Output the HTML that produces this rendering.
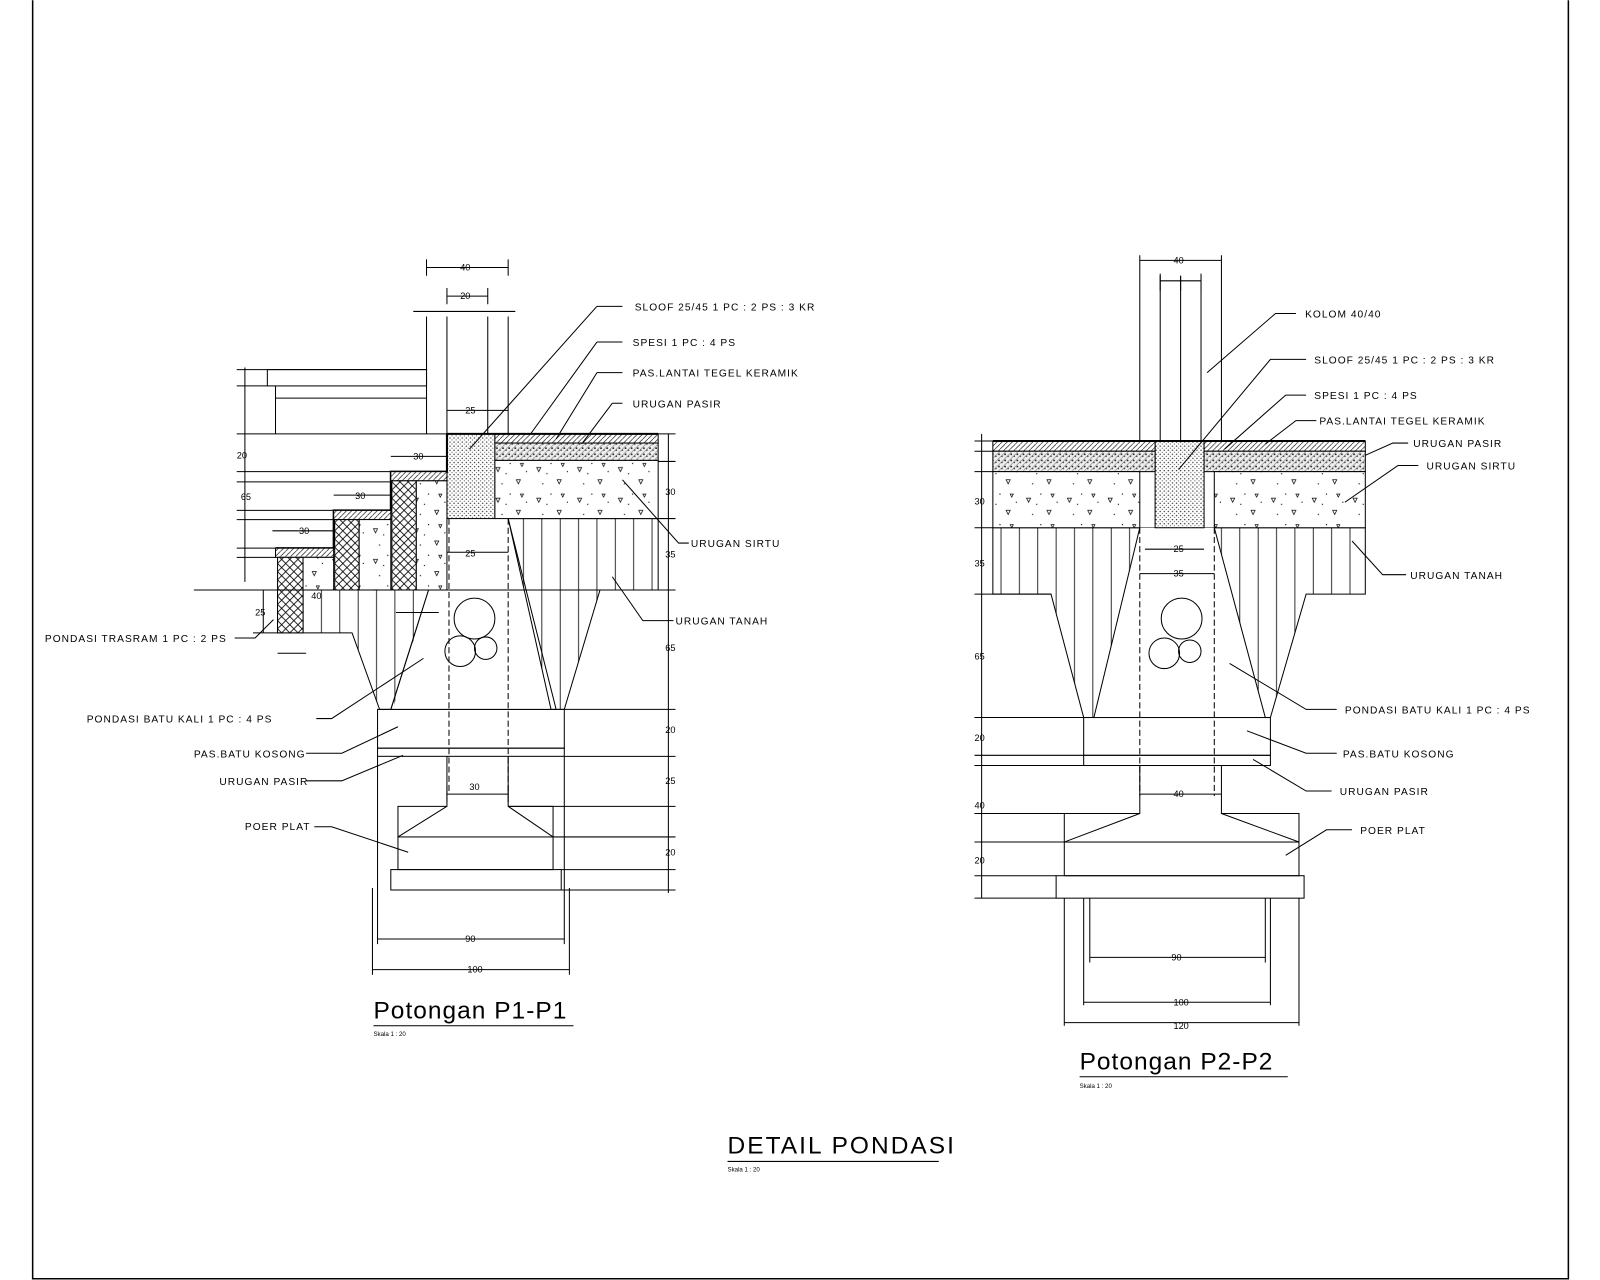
<!DOCTYPE html>
<html><head><meta charset="utf-8"><style>
html,body{margin:0;padding:0;background:#fff}
svg{display:block}
text{font-family:"Liberation Sans",sans-serif;fill:#000}
.l{font-size:10px;letter-spacing:1px}
.d{font-size:9px}
</style></head><body>
<svg width="1600" height="1280" viewBox="0 0 1568 1254" xmlns="http://www.w3.org/2000/svg">
<defs>
<pattern id="dots" width="4" height="4" patternUnits="userSpaceOnUse"><rect width="4" height="4" fill="#fff"/><circle cx="1" cy="1" r="0.7" fill="#333"/><circle cx="3" cy="3" r="0.6" fill="#555"/></pattern>
<pattern id="sp" width="6" height="6" patternUnits="userSpaceOnUse"><rect width="6" height="6" fill="#eee"/><circle cx="1" cy="1" r="0.9" fill="#222"/><circle cx="4" cy="3" r="0.8" fill="#444"/><path d="M0 6L6 0" stroke="#666" stroke-width="0.5"/></pattern>
<pattern id="sirtu" width="40" height="30" patternUnits="userSpaceOnUse"><rect width="40" height="30" fill="#fff"/><path d="M6 8l4 0-2 4z M26 20l4 0-2 4z M30 4l3 0-1.5 3z" fill="none" stroke="#000" stroke-width="0.7"/><circle cx="16" cy="14" r="0.6"/><circle cx="36" cy="12" r="0.6"/><circle cx="12" cy="24" r="0.6"/><circle cx="20" cy="4" r="0.6"/></pattern>
<pattern id="tile" width="5" height="5" patternUnits="userSpaceOnUse"><rect width="5" height="5" fill="#fff"/><path d="M0 5L5 0" stroke="#000" stroke-width="0.6"/></pattern>
<pattern id="cross" width="8" height="8" patternUnits="userSpaceOnUse"><rect width="8" height="8" fill="#fff"/><path d="M0 8L8 0M0 0L8 8" stroke="#000" stroke-width="0.8"/></pattern>
<pattern id="vl" width="18" height="10" patternUnits="userSpaceOnUse"><rect width="18" height="10" fill="#fff"/><path d="M9 0V10" stroke="#000" stroke-width="0.8"/></pattern>
</defs>
<g fill="none" stroke="#000" stroke-width="1">
<path d="M32 0V1253H1537V0" stroke-width="1.5"/>

<!-- ========== P1 ========== -->
<path d="M418 310V425M438 310V425M478 310V425M498 310V508"/>
<path d="M418 262H498M418 254V270M498 254V270M438 290H478M438 282V298M478 282V298M405 305H505"/>
<rect x="262" y="362" width="156" height="16"/><path d="M270 378V425M270 390H418"/>
<path d="M498 508H645V578H588L553 695H372L345 620H272V578H345" fill="url(#vl)"/>
<path d="M498 508L545 695M420 578L383 695M498 508V578" />
<path d="M440 508H498L540 695H385L420 578H440Z" fill="#fff" stroke="none"/>
<path d="M498 508L540 695M420 578L383 695"/>
<path d="M440 508V778M498 508V778" stroke-dasharray="6 3"/>
<rect x="438" y="425" width="47" height="83" fill="url(#dots)"/>
<rect x="485" y="425" width="160" height="9" fill="url(#tile)"/>
<rect x="485" y="434" width="160" height="17" fill="url(#sp)"/>
<rect x="485" y="451" width="160" height="57" fill="url(#sirtu)"/>
<path d="M438 425H645" stroke-width="2"/>
<path d="M270 537H327V500H383V462H438V425" stroke-width="2"/>
<rect x="270" y="537" width="57" height="9" fill="url(#tile)"/>
<rect x="327" y="500" width="56" height="9" fill="url(#tile)"/>
<rect x="383" y="462" width="55" height="9" fill="url(#tile)"/>
<rect x="272" y="546" width="25" height="74" fill="url(#cross)"/>
<rect x="328" y="509" width="24" height="69" fill="url(#cross)"/>
<rect x="384" y="471" width="24" height="107" fill="url(#cross)"/>
<rect x="297" y="546" width="30" height="32" fill="url(#sirtu)"/>
<rect x="352" y="509" width="31" height="69" fill="url(#sirtu)"/>
<rect x="408" y="471" width="30" height="107" fill="url(#sirtu)"/>
<path d="M190 578H645"/>
<circle cx="465" cy="606" r="20"/><circle cx="451" cy="638" r="15"/><circle cx="476" cy="635" r="11"/>
<rect x="370" y="695" width="183" height="38"/><rect x="370" y="733" width="183" height="8"/>
<path d="M438 741V790H390V820M498 741V790H542V820M438 790L390 820M498 790L542 820"/>
<path d="M438 778H498M438 770V786M498 770V786"/>
<rect x="390" y="820" width="152" height="32"/><rect x="383" y="852" width="167" height="20"/>
<path d="M370 741V925M553 741V925M365 870V955M558 870V955M370 920H553M365 950H558"/>
<path d="M240 360V570M232 362H418M232 378H262M232 425H438M232 462H383M232 472H383M232 500H327M232 509H327M232 537H270M232 546H270M232 578H270"/>
<path d="M655 425V875M645 425H662M645 452H662M645 508H662M645 578H662M553 695H662M553 741H662M498 790H662M542 820H662M550 852H662M550 872H662"/>
<path d="M258 578V620M248 620H272M272 640H300"/>
<path d="M267 520H327M327 485H383M383 447H438M438 402H498M438 541H498M388 600H430"/>
<path d="M585 300H610M585 300L460 440M585 335H610M585 335L520 425M585 365H610M585 365L545 430M600 395H610M600 395L570 435M675 532H665L610 470M660 608H630L600 565M230 625H250L268 607M310 704H325L415 645M300 738H335L390 712M300 765H335L395 740M308 810H325L400 835"/>
<path d="M366 1005H562"/>

<!-- ========== P2 ========== -->
<path d="M1117 250V432M1137 270V432M1157 270V432M1177 270V432M1197 250V432"/>
<path d="M1117 255H1197M1137 275H1177M1137 268V285M1177 268V285M1157 270V285"/>
<path d="M973 517H1338V582H1280L1245 703H1062L1030 582H973Z" fill="url(#vl)"/>
<path d="M1117 517H1190L1240 703H1072Z" fill="#fff" stroke="none"/>
<path d="M1117 517L1072 703M1190 517L1240 703"/>
<path d="M1117 517V780M1190 517V780" stroke-dasharray="6 3"/>
<rect x="1132" y="432" width="48" height="85" fill="url(#dots)"/>
<rect x="973" y="432" width="159" height="10" fill="url(#tile)"/><rect x="1180" y="432" width="158" height="10" fill="url(#tile)"/>
<rect x="973" y="442" width="159" height="20" fill="url(#sp)"/><rect x="1180" y="442" width="158" height="20" fill="url(#sp)"/>
<rect x="973" y="462" width="144" height="55" fill="url(#sirtu)"/><rect x="1190" y="462" width="148" height="55" fill="url(#sirtu)"/>
<path d="M973 432H1338" stroke-width="2"/>
<circle cx="1158" cy="606" r="20"/><circle cx="1141" cy="640" r="15"/><circle cx="1166" cy="638" r="11"/>
<rect x="1062" y="703" width="183" height="37"/><rect x="1062" y="740" width="183" height="10"/>
<path d="M1117 750V797H1043V825M1197 750V797H1273V825M1117 797L1043 825M1197 797L1273 825"/>
<rect x="1043" y="825" width="230" height="33"/><rect x="1035" y="858" width="243" height="22"/>
<path d="M1117 778H1197M1122 538H1180M1117 562H1190"/>
<path d="M1068 880V943M1240 880V943M1062 880V985M1245 880V985M1043 880V1005M1273 880V1005M1068 938H1240M1062 982H1245M1043 1002H1273"/>
<path d="M962 425V880M955 432H973M955 442H973M955 462H973M955 517H973M955 582H1030M955 703H1062M955 740H1062M955 750H1062M955 797H1117M955 825H1043M955 858H1035M955 880H1035"/>
<path d="M1270 307H1250L1183 365M1280 352H1245L1155 460M1280 387H1260L1200 440M1290 412H1270L1240 435M1380 434H1365L1338 446M1390 456H1370L1318 492M1378 563H1355L1325 530M1310 695H1280L1205 650M1310 738H1280L1222 716M1305 775H1280L1228 744M1325 813H1300L1260 838"/>
<path d="M1058 1055H1262"/>
<path d="M713 1138H920"/>
</g>

<g class="l">
<text x="622" y="304">SLOOF 25/45 1 PC : 2 PS : 3 KR</text>
<text x="620" y="339">SPESI 1 PC : 4 PS</text>
<text x="620" y="369">PAS.LANTAI TEGEL KERAMIK</text>
<text x="620" y="399">URUGAN PASIR</text>
<text x="677" y="536">URUGAN SIRTU</text>
<text x="662" y="612">URUGAN TANAH</text>
<text x="44" y="629">PONDASI TRASRAM 1 PC : 2 PS</text>
<text x="85" y="708">PONDASI BATU KALI 1 PC : 4 PS</text>
<text x="190" y="742">PAS.BATU KOSONG</text>
<text x="215" y="769">URUGAN PASIR</text>
<text x="240" y="813">POER PLAT</text>
<text x="1279" y="311">KOLOM 40/40</text>
<text x="1288" y="356">SLOOF 25/45 1 PC : 2 PS : 3 KR</text>
<text x="1288" y="391">SPESI 1 PC : 4 PS</text>
<text x="1293" y="416">PAS.LANTAI TEGEL KERAMIK</text>
<text x="1385" y="438">URUGAN PASIR</text>
<text x="1398" y="460">URUGAN SIRTU</text>
<text x="1382" y="567">URUGAN TANAH</text>
<text x="1318" y="699">PONDASI BATU KALI 1 PC : 4 PS</text>
<text x="1316" y="742">PAS.BATU KOSONG</text>
<text x="1313" y="779">URUGAN PASIR</text>
<text x="1333" y="817">POER PLAT</text>
</g>
<g class="d">
<text x="451" y="265">40</text><text x="451" y="293">20</text><text x="456" y="405">25</text><text x="456" y="545">25</text>
<text x="405" y="450">30</text><text x="348" y="489">30</text><text x="293" y="523">30</text>
<text x="460" y="774">30</text><text x="456" y="923">90</text><text x="458" y="953">100</text>
<text x="232" y="449">20</text><text x="236" y="490">65</text><text x="250" y="603">25</text><text x="305" y="587">40</text>
<text x="652" y="485">30</text><text x="652" y="546">35</text><text x="652" y="638">65</text><text x="652" y="718">20</text><text x="652" y="768">25</text><text x="652" y="838">20</text>
<text x="1150" y="258">40</text><text x="1150" y="541">25</text><text x="1150" y="565">35</text><text x="1150" y="781">40</text>
<text x="1148" y="941">90</text><text x="1150" y="985">100</text><text x="1150" y="1008">120</text>
<text x="955" y="494">30</text><text x="955" y="555">35</text><text x="955" y="646">65</text><text x="955" y="726">20</text><text x="955" y="792">40</text><text x="955" y="846">20</text>
<text x="366" y="1015" font-size="6">Skala 1 : 20</text><text x="1058" y="1066" font-size="6">Skala 1 : 20</text><text x="713" y="1148" font-size="6">Skala 1 : 20</text>
</g>
<text x="366" y="998" font-size="24" letter-spacing="1">Potongan P1-P1</text>
<text x="1058" y="1048" font-size="24" letter-spacing="1">Potongan P2-P2</text>
<text x="713" y="1130" font-size="24" letter-spacing="2">DETAIL PONDASI</text>
</svg>
</body></html>
